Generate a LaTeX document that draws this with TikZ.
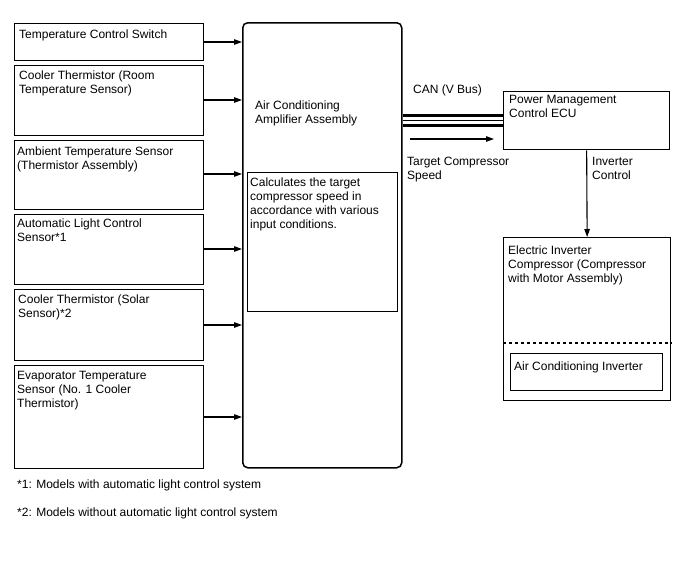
\documentclass[tikz,border=0pt]{standalone}
\usepackage{fontspec}
\setmainfont{Liberation Sans}
\usetikzlibrary{arrows.meta,positioning}
\begin{document}
\begin{tikzpicture}[>={Triangle[length=8pt,width=5.5pt]},x=1pt,y=-1pt,
  blk/.style={draw,line width=1.3pt,anchor=north west,inner sep=0pt},
  txt/.style={anchor=north west,align=left,inner sep=0pt,font=\fontsize{12pt}{14pt}\selectfont},
  sig/.style={->,line width=1.1pt}]
\useasboundingbox (0,0) rectangle (688,560);
\node[blk,minimum width=189pt,minimum height=37.5pt] (tcs) at (14,22.5) {};
\node[blk,minimum width=189pt,minimum height=70pt] (room) at (14,65) {};
\node[blk,minimum width=189pt,minimum height=69pt] (amb) at (14,140) {};
\node[blk,minimum width=189pt,minimum height=70pt] (light) at (14,214) {};
\node[blk,minimum width=189pt,minimum height=71pt] (solar) at (14,289) {};
\node[blk,minimum width=189pt,minimum height=103pt] (evap) at (14,365) {};
\node[txt] (tcs t) at ([shift={(5pt,-7pt)}]tcs.north west) {Temperature Control Switch};
\node[txt] (room t) at ([shift={(5pt,-6pt)}]room.north west) {Cooler Thermistor (Room\\Temperature Sensor)};
\node[txt] (amb t) at ([shift={(3pt,-7pt)}]amb.north west) {Ambient Temperature Sensor\\(Thermistor Assembly)};
\node[txt] (light t) at ([shift={(3pt,-5pt)}]light.north west) {Automatic Light Control\\Sensor*1};
\node[txt] (solar t) at ([shift={(4pt,-6pt)}]solar.north west) {Cooler Thermistor (Solar\\Sensor)*2};
\node[txt] (evap t) at ([shift={(3pt,-6pt)}]evap.north west) {Evaporator Temperature\\Sensor (No. 1 Cooler\\Thermistor)};
\node[blk,line width=1.5pt,rounded corners=5pt,minimum width=159pt,minimum height=445pt] (amp) at (242,22) {};
\node[txt] (amp t) at (255,101) {Air Conditioning\\Amplifier Assembly};
\node[blk,minimum width=150pt,minimum height=139pt] (calc) at (247,172) {};
\node[txt] (calc t) at (250,178) {Calculates the target\\compressor speed in\\accordance with various\\input conditions.};
\node[blk,minimum width=166pt,minimum height=58pt] (ecu) at (503,91) {};
\node[txt] (ecu t) at (509,95) {Power Management\\Control ECU};
\node[blk,minimum width=167pt,minimum height=163pt] (inv) at (503,237) {};
\node[txt] (inv t) at (508,246) {Electric Inverter\\Compressor (Compressor\\with Motor Assembly)};
\node[blk,minimum width=152pt,minimum height=37pt] (acinv) at (510,353) {};
\node[txt] (acinv t) at (514,362) {Air Conditioning Inverter};
\draw[dashed,line width=1.1pt] ([yshift=-106pt]inv.north west) -- ([yshift=-106pt]inv.north east);
\foreach \s/\y in {tcs/42,room/100,amb/174,light/249,solar/325,evap/417}
  \draw[sig] (\s.east |- 0,\y) -- (amp.west |- 0,\y);
\draw[line width=3pt] ([yshift=5pt]ecu.west -| amp.east) -- ([yshift=5pt]ecu.west);
\draw[line width=1pt] (ecu.west -| amp.east) -- (ecu.west);
\draw[line width=3pt] ([yshift=-5pt]ecu.west -| amp.east) -- ([yshift=-5pt]ecu.west);
\node[txt] (can t) at (413,85) {CAN (V Bus)};
\coordinate (tgt a) at (410,139);
\coordinate (tgt b) at (494,139);
\draw[sig] (tgt a) -- (tgt b);
\node[txt] (tgt t) at (407,157) {Target Compressor\\Speed};
\draw[sig] (ecu.south) -- (inv.north);
\node[txt] (ictl t) at (592,157) {Inverter\\Control};
\node[txt] (note1) at (17,480) {*1: Models with automatic light control system};
\node[txt] (note2) at (17,508) {*2: Models without automatic light control system};
\end{tikzpicture}
\end{document}
